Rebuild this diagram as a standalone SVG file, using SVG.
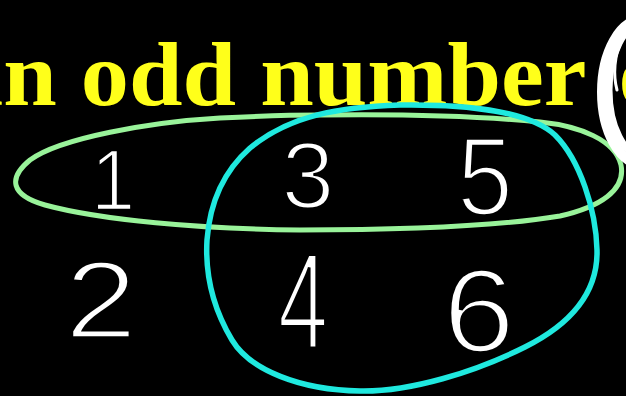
<svg xmlns="http://www.w3.org/2000/svg" width="626" height="396" viewBox="0 0 626 396">
  <style>
    .title { font-family: "Liberation Serif", "Times New Roman", serif; font-weight: bold; font-size: 90px; fill: #FFFF1A; }
    .digit { font-family: "Liberation Sans", Arial, sans-serif; font-size: 100px; fill: #FFFFFF; stroke: #000000; stroke-width: 3; text-anchor: middle; }
    .loop { fill: none; stroke-linecap: round; stroke-linejoin: round; }
    .green { stroke: #99F39A; stroke-width: 5; }
    .cyan { stroke: #1FE9DF; stroke-width: 5.5; }
    .ring { fill: none; stroke: #FFFFFF; }
  </style>
  <rect x="0" y="0" width="626" height="396" fill="#000000"/>

  <g id="title">
    <text class="title" transform="scale(1.07 1)" x="-42" y="105">an odd number <tspan x="578">of</tspan></text>
  </g>

  <g id="digits">
    <text class="digit" transform="translate(113 210) scale(0.8 0.87)">1</text>
    <text class="digit" transform="translate(308 208) scale(0.95 0.95)">3</text>
    <text class="digit" transform="translate(485 215) scale(1.0 1.12)">5</text>
    <text class="digit" transform="translate(101 338) scale(1.3 1.09)">2</text>
    <text class="digit" transform="translate(303 348) scale(0.9 1.37)">4</text>
    <text class="digit" transform="translate(479 352) scale(1.3 1.19)">6</text>
  </g>

  <g id="odd-loop">
    <path class="loop green" d="M 320 115 C 400 114, 480 116, 540 122 C 580 126, 615 140, 621 165 C 626 190, 600 207, 560 216 C 500 226, 400 230, 300 230 C 200 229, 100 220, 45 205 C 10 195, 8 178, 30 160 C 60 138, 150 122, 220 118 C 260 116, 300 115, 320 115 Z"/>
  </g>

  <g id="cyan-loop">
    <path class="loop cyan" d="M 400 105 C 470 104, 530 112, 555 135 C 580 160, 596 210, 597 250 C 598 290, 575 322, 525 347 C 475 372, 410 392, 360 391 C 300 390, 250 370, 232 340 C 214 310, 205 275, 207 240 C 210 200, 225 170, 250 148 C 290 115, 340 107, 400 105 Z"/>
  </g>

  <g id="white-ring">
    <ellipse class="ring" cx="642" cy="92" rx="40" ry="72" stroke-width="10"/>
    <ellipse class="ring" cx="643" cy="90" rx="34" ry="66" stroke-width="7"/>
    <path class="ring" d="M 622 40 C 614 55, 613 75, 617 90" stroke-width="3" stroke-linecap="round"/>
  </g>
</svg>
